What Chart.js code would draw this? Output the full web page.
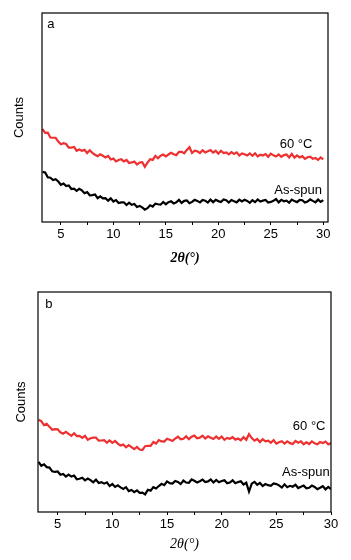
<!DOCTYPE html>
<html>
<head>
<meta charset="utf-8">
<script src="https://cdn.jsdelivr.net/npm/chart.js@4.4.1/dist/chart.umd.min.js"></script>
<style>
  html, body { margin: 0; padding: 0; background: #fff; }
  .panel { position: absolute; left: 0; width: 351px; height: 280px; }
</style>
</head>
<body>
<div class="panel" style="top:0"><canvas id="chart_a" width="351" height="280"></canvas></div>
<div class="panel" style="top:280px"><canvas id="chart_b" width="351" height="280"></canvas></div>
<script>
// 2theta positions (degrees)
const twoTheta = [
  3.25, 3.5, 3.75,
  4, 4.25, 4.5, 4.75, 5, 5.25, 5.5, 5.75, 6, 6.25, 6.5, 6.75,
  7, 7.25, 7.5, 7.75, 8, 8.25, 8.5, 8.75, 9, 9.25, 9.5, 9.75,
  10, 10.25, 10.5, 10.75, 11, 11.25, 11.5, 11.75, 12, 12.25, 12.5, 12.75,
  13, 13.25, 13.5, 13.75, 14, 14.25, 14.5, 14.75, 15, 15.25, 15.5, 15.75,
  16, 16.25, 16.5, 16.75, 17, 17.25, 17.5, 17.75, 18, 18.25, 18.5, 18.75,
  19, 19.25, 19.5, 19.75, 20, 20.25, 20.5, 20.75, 21, 21.25, 21.5, 21.75,
  22, 22.25, 22.5, 22.75, 23, 23.25, 23.5, 23.75, 24, 24.25, 24.5, 24.75,
  25, 25.25, 25.5, 25.75, 26, 26.25, 26.5, 26.75, 27, 27.25, 27.5, 27.75,
  28, 28.25, 28.5, 28.75, 29, 29.25, 29.5, 29.75, 30
];

// panel a
const heatedA = [
  44.5, 42.6, 42.7,
  40.4, 40.3, 40.3, 38.5, 37.2, 37.7, 37.3, 35.6,
  35.6, 35.9, 34.1, 34.7, 34.1, 34.5, 33.0, 34.3,
  33.1, 32.2, 31.5, 32.4, 31.7, 30.9, 31.6, 29.9,
  30.4, 29.0, 29.7, 30.0, 29.0, 29.7, 28.2, 28.5,
  28.9, 27.5, 28.4, 28.6, 26.4, 28.4, 30.0, 29.7,
  31.6, 30.5, 31.7, 32.3, 31.4, 32.3, 33.1, 32.4,
  32.0, 33.6, 33.6, 32.9, 34.5, 35.8, 33.0, 34.1,
  33.8, 33.0, 34.3, 33.3, 33.8, 34.4, 33.2, 34.1,
  32.7, 34.1, 33.0, 33.3, 32.4, 33.4, 32.6, 33.3,
  31.8, 32.8, 32.4, 31.8, 32.8, 31.7, 32.9, 31.4,
  32.2, 31.8, 32.5, 31.2, 32.7, 31.9, 31.3, 32.3,
  31.2, 32.0, 32.3, 30.9, 32.6, 30.8, 31.9, 30.9,
  31.5, 30.2, 31.0, 31.3, 30.2, 30.6, 29.7, 30.9,
  30.0
];
const asSpunA = [
  24.0, 23.7, 21.4,
  21.2, 20.1, 20.5, 19.4, 17.8, 18.4, 17.2, 17.5,
  15.8, 16.0, 14.9, 15.9, 15.1, 13.8, 14.3, 12.8,
  12.9, 13.2, 11.4, 12.3, 11.3, 11.4, 10.2, 11.3,
  9.8, 10.5, 9.1, 9.4, 9.4, 8.1, 9.2, 8.2,
  8.6, 7.2, 7.7, 7.0, 5.9, 6.6, 8.0, 7.4,
  8.8, 8.5, 8.3, 9.6, 8.5, 9.5, 9.9, 8.9,
  9.4, 10.6, 9.1, 10.1, 10.3, 9.0, 9.6, 10.6,
  10.1, 9.4, 10.5, 10.2, 9.3, 10.7, 9.5, 10.6,
  10.0, 9.6, 10.8, 10.4, 9.3, 10.5, 9.9, 9.4,
  10.7, 9.8, 10.6, 10.1, 9.2, 10.4, 9.5, 10.8,
  9.8, 10.2, 10.5, 9.3, 9.6, 10.1, 11.0, 9.4,
  10.6, 9.9, 10.2, 9.2, 10.7, 10.0, 9.5, 10.6,
  10.4, 9.3, 9.8, 10.8, 10.1, 9.4, 10.7, 9.6,
  10.5
];

// panel b
const heatedB = [
  41.9, 41.3, 39.5,
  40.1, 38.7, 37.4, 37.7, 37.6, 36.2, 35.6, 36.4,
  35.5, 34.6, 35.8, 34.5, 34.6, 33.7, 34.6, 32.8,
  33.5, 33.8, 33.8, 32.4, 32.5, 32.7, 31.5, 32.5,
  31.4, 32.3, 31.1, 30.2, 30.7, 29.4, 30.4, 29.5,
  28.6, 29.6, 28.4, 28.2, 29.9, 30.1, 30.1, 31.8,
  31.1, 32.7, 32.1, 32.0, 33.3, 32.8, 32.3, 33.4,
  34.2, 33.0, 33.3, 34.4, 33.1, 34.2, 34.7, 33.5,
  33.8, 34.7, 33.4, 34.4, 33.8, 33.2, 34.3, 33.3,
  34.3, 32.8, 33.7, 33.3, 34.0, 32.9, 33.4, 32.6,
  34.0, 32.8, 35.4, 33.6, 32.4, 33.2, 31.8, 33.1,
  32.1, 32.4, 31.5, 32.7, 31.1, 31.7, 32.2, 31.1,
  32.1, 31.3, 30.9, 32.3, 31.5, 32.1, 30.8, 31.7,
  30.9, 32.1, 31.2, 30.8, 31.8, 31.3, 32.0, 30.7,
  31.4
];
const asSpunB = [
  22.8, 21.0, 21.7,
  20.4, 20.2, 18.5, 18.2, 18.4, 16.9, 17.3, 16.1,
  17.0, 16.1, 16.6, 14.9, 15.1, 15.6, 14.4, 15.2,
  14.5, 13.5, 14.7, 13.2, 13.6, 12.9, 13.5, 11.8,
  12.7, 11.4, 12.1, 11.2, 10.5, 11.3, 9.5, 10.0,
  9.0, 9.8, 8.7, 8.8, 8.0, 10.1, 9.7, 11.3,
  10.7, 11.8, 12.8, 12.2, 13.9, 13.1, 12.9, 14.1,
  13.7, 12.7, 14.3, 13.4, 13.3, 14.8, 14.2, 13.4,
  14.0, 14.7, 13.6, 13.9, 14.8, 13.4, 14.6, 13.5,
  14.1, 14.4, 13.1, 13.4, 14.4, 13.1, 13.6, 14.0,
  12.5, 13.3, 9.3, 12.9, 13.7, 12.4, 13.2, 11.8,
  12.7, 12.2, 11.9, 13.0, 12.7, 12.1, 11.1, 12.6,
  11.3, 11.9, 11.5, 12.4, 10.9, 11.5, 12.0, 10.8,
  11.0, 12.0, 11.4, 10.4, 11.0, 11.7, 10.3, 11.4,
  10.4
];

// x tick positions (majors get labels)
const xTicks = [5, 7.5, 10, 12.5, 15, 17.5, 20, 22.5, 25, 27.5, 30];
const majorTicks = [5, 10, 15, 20, 25, 30];

const SANS = '"Liberation Sans", Arial, sans-serif';
const SERIF = '"Liberation Serif", "DejaVu Serif", serif';

function pairs(xs, ys) {
  return xs.map((x, i) => ({ x: x, y: ys[i] }));
}

// frame around the plot area + text labels placed in data coordinates
const frameAndLabels = {
  id: 'frameAndLabels',
  afterDraw(chart, args, opts) {
    const ctx = chart.ctx;
    const a = chart.chartArea;
    const xs = chart.scales.x, ys = chart.scales.y;
    ctx.save();
    ctx.strokeStyle = '#000';
    ctx.lineWidth = 1.2;
    ctx.strokeRect(a.left, a.top, a.right - a.left, a.bottom - a.top);
    ctx.fillStyle = '#000';
    ctx.textAlign = 'center';
    ctx.textBaseline = 'middle';
    opts.labels.forEach(l => {
      ctx.font = l.font;
      ctx.fillText(l.text, xs.getPixelForValue(l.x), ys.getPixelForValue(l.y));
    });
    ctx.restore();
  }
};

function makePanel(id, red, black, lay) {
  const ctx = document.getElementById(id).getContext('2d');
  return new Chart(ctx, {
    type: 'line',
    data: {
      datasets: [{
        label: '60 °C',
        data: pairs(twoTheta, red),
        borderColor: '#ee3030',
        borderWidth: 2.2,
        pointRadius: 0,
        tension: 0,
        fill: false
      }, {
        label: 'As-spun',
        data: pairs(twoTheta, black),
        borderColor: '#000000',
        borderWidth: 2.2,
        pointRadius: 0,
        tension: 0,
        fill: false
      }]
    },
    options: {
      responsive: false,
      animation: false,
      devicePixelRatio: 1,
      layout: { padding: { left: 0, right: lay.right, top: lay.top, bottom: 0 } },
      plugins: {
        legend: { display: false },
        tooltip: { enabled: false },
        frameAndLabels: { labels: lay.labels }
      },
      scales: {
        x: {
          type: 'linear',
          min: 3.2,
          max: lay.xMax,
          border: { display: false },
          grid: {
            drawOnChartArea: false,
            tickLength: 3,
            tickColor: '#000',
            tickWidth: 1
          },
          afterBuildTicks: (s) => { s.ticks = xTicks.map(v => ({ value: v })); },
          afterFit: (s) => { s.height = lay.xHeight; },
          ticks: {
            color: '#000',
            padding: lay.tickPad,
            maxRotation: 0,
            autoSkip: false,
            font: { family: SANS, size: 13 },
            callback: (v) => majorTicks.includes(v) ? String(v) : ''
          },
          title: {
            display: true,
            text: '2θ(°)',
            color: '#000',
            padding: { top: 0, bottom: lay.titlePad },
            font: { family: SERIF, size: 14, style: 'italic', weight: lay.titleWeight }
          }
        },
        y: {
          min: 0,
          max: 100,
          border: { display: false },
          grid: { display: false },
          ticks: { display: false },
          afterFit: (s) => { s.width = lay.left; },
          title: {
            display: true,
            text: 'Counts',
            color: '#000',
            padding: { top: lay.countsPad, bottom: 0 },
            font: { family: SANS, size: 13 }
          }
        }
      }
    },
    plugins: [frameAndLabels]
  });
}

makePanel('chart_a', heatedA, asSpunA, {
  left: 42, right: 23, top: 13, xHeight: 58, xMax: 30.45,
  tickPad: 2, titlePad: 13, countsPad: 12, titleWeight: 'bold',
  labels: [
    { text: 'a', x: 4.05, y: 94.3, font: '13px ' + SANS },
    { text: '60 °C', x: 27.4, y: 37.1, font: '13px ' + SANS },
    { text: 'As-spun', x: 27.6, y: 15.3, font: '13px ' + SANS }
  ]
});

makePanel('chart_b', heatedB, asSpunB, {
  left: 38, right: 20, top: 12, xHeight: 48, xMax: 30.0,
  tickPad: 2, titlePad: 7, countsPad: 14, titleWeight: 'normal',
  labels: [
    { text: 'b', x: 4.19, y: 94.3, font: '13px ' + SANS },
    { text: '60 °C', x: 28.0, y: 39.1, font: '13px ' + SANS },
    { text: 'As-spun', x: 27.7, y: 18.2, font: '13px ' + SANS }
  ]
});
</script>
</body>
</html>
